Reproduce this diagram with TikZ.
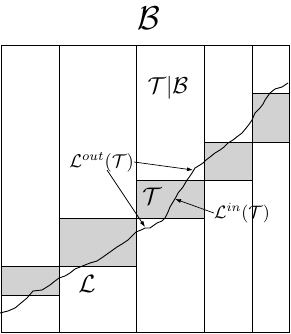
\documentclass[tikz,border=0pt]{standalone}
\usetikzlibrary{arrows.meta}
\begin{document}
\begin{tikzpicture}[x=1pt,y=-1pt,
  grid/.style={draw=black,line width=0.9pt},
  cell/.style={grid,fill=gray!35},
  walk/.style={draw=black,line width=0.9pt,line join=round},
  lab/.style={inner sep=0pt,scale=1.85},
  pointer/.style={draw=black,line width=0.7pt,-{Latex[length=6pt,width=4pt]}}]
\useasboundingbox (0,0) rectangle (291,334);
% gray boxes
\draw[cell] (1.5,266) rectangle (59,295);
\draw[cell] (59,218) rectangle (136,266);
\draw[cell] (136,180) rectangle (204,218);
\draw[cell] (204,142) rectangle (252,180);
\draw[cell] (252,93) rectangle (289.5,142);
% outer box and columns
\draw[grid] (1.5,45) rectangle (289.5,332.5);
\foreach \x in {59,136,204,252} \draw[grid] (\x,45) -- (\x,332.5);
% random walk curve
\draw[walk] plot coordinates {(0,313) (8,311) (15,308) (21,303) (27,298) (33,291) (42,290) (50,285) (55,281) (59,278) (65,276) (70,273) (75,269) (80,267) (85,265) (90,263) (97,261) (103,257) (110,252) (117,247) (122,244) (128,240) (132,236) (136,232) (141,230) (145,228) (150,228) (157,223) (162,221) (165,218) (168,212) (170,207) (173,202) (176,197) (178,193) (183,187) (187,180) (190,176) (192,173) (195,168) (200,165) (203,163) (206,160) (210,157) (215,153) (220,150) (224,147) (228,143) (233,140) (238,136) (242,133) (247,127) (250,123) (252,120) (255,113) (260,108) (263,104) (265,100) (270,93) (275,89) (282,87) (288,83)};
% labels
\node[inner sep=0pt,scale=3.3] (btitle) at (149,18) {$\mathcal{B}$};
\node[inner sep=0pt,scale=2.3] (tb) at (168,88) {$\mathcal{T}|\mathcal{B}$};
\node[lab] (lout) at (101.5,162) {$\mathcal{L}^{out}(\mathcal{T})$};
\node[lab,scale=0.97] (lin) at (242,213) {$\mathcal{L}^{in}(\mathcal{T})$};
\node[inner sep=0pt,scale=2.4] (t) at (152,196) {$\mathcal{T}$};
\node[inner sep=0pt,scale=2.5] (l) at (87,284) {$\mathcal{L}$};
% pointer ends
\coordinate (p1) at (193,170);
\coordinate (p2) at (145,227);
\coordinate (p3) at (175,199);
\coordinate (s2) at (107,170);
\draw[pointer] (lout.east) -- (p1);
\draw[pointer] (s2) -- (p2);
\draw[pointer] (lin.west) -- (p3);
\end{tikzpicture}
\end{document}
